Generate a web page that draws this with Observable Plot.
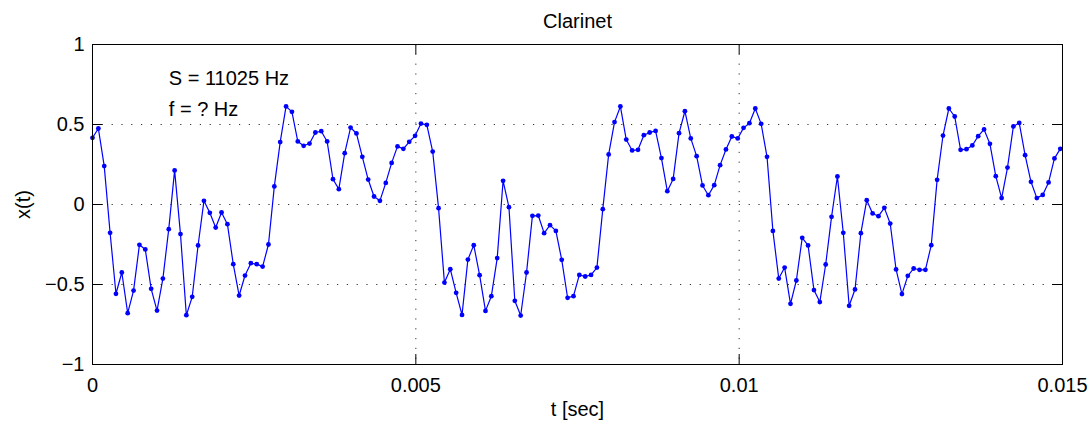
<!DOCTYPE html>
<html>
<head>
<meta charset="utf-8">
<script src="https://cdn.jsdelivr.net/npm/d3@7"></script>
<script src="https://cdn.jsdelivr.net/npm/@observablehq/plot@0.6"></script>
<style>
  html, body { margin: 0; padding: 0; background: #fff; }
  #chart { width: 1091px; height: 424px; }
</style>
</head>
<body>
<div id="chart"></div>
<script>
// ---- data ----
const sampleRate = 11025; // Hz
const samples = [
  0.417, 0.475, 0.24, -0.177, -0.558, -0.425, -0.679, -0.538, -0.252, -0.281, -0.527, -0.663, -0.463, -0.154, 0.213, -0.185, -0.692, -0.577, -0.256, 0.023, -0.052, -0.144,
  -0.05, -0.123, -0.373, -0.569, -0.444, -0.367, -0.373, -0.388, -0.25, 0.113, 0.39, 0.613, 0.579, 0.394, 0.367, 0.381, 0.45, 0.458, 0.394, 0.158, 0.096,
  0.321, 0.481, 0.444, 0.298, 0.156, 0.05, 0.023, 0.135, 0.26, 0.363, 0.348, 0.392, 0.429, 0.506, 0.498, 0.331, -0.023, -0.488, -0.404, -0.552,
  -0.69, -0.344, -0.254, -0.442, -0.665, -0.573, -0.335, 0.148, -0.017, -0.602, -0.694, -0.425, -0.071, -0.069, -0.179, -0.129, -0.165, -0.346, -0.583, -0.573,
  -0.44, -0.45, -0.44, -0.394, -0.029, 0.313, 0.515, 0.613, 0.406, 0.338, 0.342, 0.433, 0.45, 0.46, 0.29, 0.083, 0.16, 0.446, 0.583, 0.413, 0.302,
  0.119, 0.058, 0.121, 0.246, 0.344, 0.425, 0.413, 0.479, 0.508, 0.6, 0.504, 0.298, -0.165, -0.463, -0.394, -0.621, -0.475, -0.208, -0.256, -0.535,
  -0.61, -0.375, -0.077, 0.175, -0.177, -0.633, -0.531, -0.179, 0.027, -0.056, -0.073, -0.021, -0.119, -0.406, -0.56, -0.446, -0.4, -0.408, -0.408, -0.254, 0.154,
  0.431, 0.6, 0.55, 0.342, 0.346, 0.369, 0.427, 0.469, 0.379, 0.177, 0.04, 0.231, 0.488, 0.51, 0.308, 0.142, 0.04, 0.06, 0.138, 0.288, 0.348
];
const xTicks = [0, 0.005, 0.01, 0.015];
const yTicks = [-1, -0.5, 0, 0.5, 1];
const xGrid = [0.005, 0.01];
const yGrid = [-0.5, 0, 0.5];
const titleText = "Clarinet";
const xLabel = "t [sec]";
const yLabel = "x(t)";
const notes = [
  {text: "S = 11025 Hz", t: 0.00118, v: 0.79},
  {text: "f = ? Hz", t: 0.00118, v: 0.596}
];

// ---- table ----
const data = samples.map((v, i) => ({t: i / sampleRate, v}));
const fmt = d => String(d).replace("-", "\u2212");

const chart = Plot.plot({
  width: 1091,
  height: 424,
  marginLeft: 92,
  marginRight: 29,
  marginTop: 44,
  marginBottom: 60,
  style: {fontSize: "20px", fontFamily: "'Liberation Sans', Arial, Helvetica, sans-serif", background: "#fff", color: "#000"},
  x: {domain: [0, 0.015]},
  y: {domain: [-1, 1]},
  marks: [
    // dotted grid
    Plot.ruleX(xGrid, {x: d => d, stroke: "#333", strokeWidth: 1, strokeDasharray: "1.2,8.6"}),
    Plot.ruleY(yGrid, {y: d => d, stroke: "#333", strokeWidth: 1, strokeDasharray: "1.2,8.6"}),
    // inward ticks on all four sides
    Plot.tickX(xTicks, {x: d => d, insetTop: 310, stroke: "#000"}),
    Plot.tickX(xTicks, {x: d => d, insetBottom: 310, stroke: "#000"}),
    Plot.tickY(yTicks, {y: d => d, insetRight: 960, stroke: "#000"}),
    Plot.tickY(yTicks, {y: d => d, insetLeft: 960, stroke: "#000"}),
    Plot.axisX({ticks: xTicks, tickSize: 0, tickPadding: 13, tickFormat: fmt, label: null}),
    Plot.axisY({ticks: yTicks, tickSize: 0, tickPadding: 8, tickFormat: fmt, label: null}),
    // signal
    Plot.line(data, {x: "t", y: "v", stroke: "#0000ff", strokeWidth: 1.2}),
    Plot.dot(data, {x: "t", y: "v", r: 2.4, fill: "#0000ff", stroke: "none"}),
    // annotations
    Plot.text(notes, {x: "t", y: "v", text: "text", textAnchor: "start", lineAnchor: "middle", fill: "#000"}),
    // titles
    Plot.text([titleText], {frameAnchor: "top", dy: -23, lineAnchor: "middle", textAnchor: "middle", text: d => d, fill: "#000"}),
    Plot.text([xLabel], {frameAnchor: "bottom", dy: 45.5, lineAnchor: "middle", textAnchor: "middle", text: d => d, fill: "#000"}),
    Plot.text([yLabel], {frameAnchor: "left", dx: -68.5, rotate: -90, lineAnchor: "middle", textAnchor: "middle", text: d => d, fill: "#000"}),
    Plot.frame({stroke: "#000", strokeWidth: 1})
  ]
});
document.getElementById("chart").appendChild(chart);
</script>
</body>
</html>
